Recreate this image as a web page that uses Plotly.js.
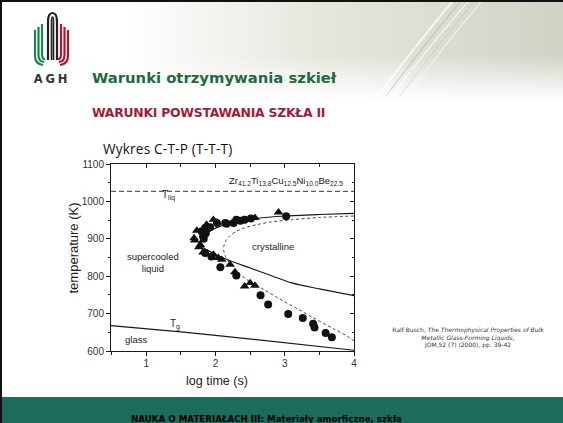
<!DOCTYPE html>
<html>
<head>
<meta charset="utf-8">
<script src="https://cdn.plot.ly/plotly-3.0.1.min.js"></script>
<style>
  html,body{margin:0;padding:0;background:#fff;overflow:hidden;}
  #slide{position:relative;width:563px;height:423px;overflow:hidden;background:#fff;font-family:'DejaVu Sans',Verdana,sans-serif;}
  .abs{position:absolute;white-space:nowrap;line-height:1;}
  #plot{position:absolute;left:0;top:0;width:563px;height:423px;z-index:5;}
  #footer{position:absolute;left:0;top:397px;width:563px;height:26px;background:#1c6c5b;z-index:10;overflow:hidden;}
</style>
</head>
<body>
<div id="slide">
  <!-- header background -->
  <div class="abs" style="left:0;top:0;width:563px;height:100px;background:linear-gradient(to right,#ffffff 0%,#ffffff 22%,#e6e8df 55%,#cfd3c6 100%);"></div>
  <div class="abs" style="left:0;top:0;width:563px;height:100px;background:linear-gradient(to bottom,rgba(255,255,255,0) 55%,rgba(255,255,255,1) 100%);"></div>
  <svg class="abs" style="left:0;top:0" width="563" height="100">
    <g fill="none" stroke-linecap="round">
      <path d="M378,96 Q420,40 452,2" stroke="rgba(255,255,255,0.7)" stroke-width="2"/>
      <path d="M386,96 Q428,40 460,2" stroke="rgba(160,165,150,0.35)" stroke-width="1.2"/>
      <path d="M392,96 Q434,40 468,2" stroke="rgba(255,255,255,0.6)" stroke-width="1.5"/>
      <path d="M400,96 Q440,42 474,2" stroke="rgba(170,175,160,0.3)" stroke-width="1"/>
      <path d="M407,96 Q447,42 481,2" stroke="rgba(255,255,255,0.5)" stroke-width="1.2"/>
    </g>
    <!-- AGH logo -->
    <g fill="none" stroke-width="2.2" stroke-linecap="butt">
      <path d="M35,30 L35,56 Q35,64 43,65" stroke="#17884a"/>
      <path d="M38.5,27 L38.5,55 Q38.5,61.5 44,62" stroke="#17884a"/>
      <path d="M42,24 L42,54 Q42,59 45,59.5" stroke="#17884a"/>
      <path d="M48,60 L48,22 Q48,13 52.5,13 Q57,13 57,22 L57,60" stroke="#222"/>
      <path d="M51.5,60 L51.5,22 Q51.5,17 52.5,17 Q53.5,17 53.5,22 L53.5,60" stroke="#222" stroke-width="1.6"/>
      <path d="M61,24 L61,54 Q61,59 58,59.5" stroke="#b3142f"/>
      <path d="M64.5,27 L64.5,55 Q64.5,61.5 59,62" stroke="#b3142f"/>
      <path d="M68,30 L68,56 Q68,64 60,65" stroke="#b3142f"/>
    </g>
  </svg>
  <div class="abs" style="left:0;top:0;width:563px;height:2px;background:#111;z-index:11;"></div>
  <div class="abs" style="left:0;top:0;width:2px;height:423px;background:#111;z-index:11;"></div>

  <div class="abs" style="left:31px;top:74px;width:42px;text-align:center;font-size:11.5px;font-weight:bold;letter-spacing:2.8px;color:#333;">AGH</div>
  <div class="abs" style="left:92px;top:70.5px;font-size:14.8px;font-weight:bold;color:#1d6b3e;">Warunki otrzymywania szkieł</div>
  <div class="abs" style="left:92px;top:106.8px;font-size:12.4px;font-weight:bold;letter-spacing:-0.25px;color:#a31b37;">WARUNKI POWSTAWANIA SZKŁA II</div>
  <div class="abs" style="left:103px;top:141.5px;font-family:'Open Sans',sans-serif;font-size:13.6px;letter-spacing:0.2px;color:#111;">Wykres C-T-P (T-T-T)</div>

  <div class="abs" style="left:378px;top:326px;width:180px;text-align:center;font-size:6px;line-height:7.5px;color:#333;">
    Ralf Busch, <i>The Thermophysical Properties of Bulk</i><br>
    <i>Metallic Glass-Forming Liquids</i>,<br>
    JOM,52 (7) (2000), pp. 39-42
  </div>

  <div id="footer">
    <div class="abs" style="left:0;top:18px;width:533px;text-align:center;font-size:8.7px;font-weight:bold;color:#000;">NAUKA O MATERIAŁACH III: Materiały amorficzne, szkła</div>
  </div>

  <div id="plot"></div>
</div>
<script>
// ---- data ----
const circlesX = [1.80, 1.82, 1.83, 1.85, 1.86, 1.92, 2.02, 2.14, 2.16, 2.26, 2.30, 2.36, 2.42, 2.51, 3.02,
                  1.85, 1.94, 2.07, 2.30, 2.65, 2.76, 3.05, 3.26, 3.41, 3.43, 3.59, 3.68];
const circlesY = [920, 907, 900, 929, 915, 931, 942, 942, 940, 942, 951, 948, 951, 954, 960,
                  862, 853, 824, 802, 749, 724, 699, 688, 673, 663, 648, 637];

const trianglesX = [1.69, 1.70, 1.73, 1.76, 1.78, 1.82, 1.87, 1.97, 2.02, 2.41, 2.57, 2.91,
                    1.97, 2.04, 2.09, 2.21, 2.28, 2.42, 2.50, 2.57];
const trianglesY = [902, 896, 922, 878, 884, 864, 938, 951, 944, 951, 956, 971,
                    858, 849, 844, 831, 811, 773, 782, 775];

const solidCurveX = [4.0, 3.5, 3.0, 2.6, 2.3, 2.1, 1.95, 1.85, 1.78, 1.76, 1.80, 1.90, 2.0, 2.2, 2.5, 2.8, 3.1, 3.5, 4.0];
const solidCurveY = [968, 965, 961, 955, 946, 936, 924, 910, 895, 887, 879, 868, 858, 842, 822, 802, 782, 766, 748];

const dashedCurveX = [4.0, 3.5, 3.1, 2.8, 2.6, 2.4, 2.3, 2.2, 2.15, 2.12, 2.12, 2.15, 2.2, 2.3, 2.45, 2.7, 2.9, 3.2, 3.4, 3.7, 3.9, 4.0];
const dashedCurveY = [961, 957, 951, 945, 938, 928, 920, 907, 895, 880, 866, 850, 836, 815, 791, 764, 742, 711, 690, 660, 640, 627];

const tliqX = [0.49, 4.0];
const tliqY = [1027, 1027];

const tgX = [0.49, 1.0, 1.5, 2.0, 2.5, 3.0, 3.5, 4.0];
const tgY = [668, 660, 651, 642, 632, 622, 612, 602];

const xTicks = [1, 2, 3, 4];
const yTicks = [600, 700, 800, 900, 1000, 1100];
const xRange = [0.49, 4.0];
const yRange = [600, 1100];

const ink = '#1a1a1a';
const txt = '#222222';
const chartFont = 'Liberation Sans, Arial, sans-serif';

const traces = [
  {x: tgX, y: tgY, mode: 'lines', line: {color: ink, width: 1.2}, hoverinfo: 'skip'},
  {x: solidCurveX, y: solidCurveY, mode: 'lines', line: {color: ink, width: 1.2, shape: 'spline', smoothing: 0.8}, hoverinfo: 'skip'},
  {x: dashedCurveX, y: dashedCurveY, mode: 'lines', line: {color: '#333', width: 0.9, dash: '3px,2.5px', shape: 'spline', smoothing: 0.8}, hoverinfo: 'skip'},
  {x: circlesX, y: circlesY, mode: 'markers', marker: {symbol: 'circle', size: 8, color: '#111'}},
  {x: trianglesX, y: trianglesY, mode: 'markers', marker: {symbol: 'triangle-up', size: 8.5, color: '#111'}},
  {x: tliqX, y: tliqY, xaxis: 'x2', yaxis: 'y2', mode: 'lines', line: {color: '#333', width: 1, dash: '5px,3px'}, hoverinfo: 'skip'}
];

const axisCommon = {
  showline: true, linecolor: ink, linewidth: 1, showgrid: false, zeroline: false,
  tickcolor: ink, tickwidth: 1, ticklen: 4,
  tickfont: {family: chartFont, size: 10, color: '#333'}
};

const layout = {
  width: 563, height: 423,
  margin: {l: 111, r: 209, t: 164, b: 72, pad: 0},
  paper_bgcolor: 'rgba(0,0,0,0)', plot_bgcolor: 'rgba(0,0,0,0)',
  showlegend: false,
  xaxis: Object.assign({}, axisCommon, {range: xRange, tickvals: xTicks, ticks: 'outside', ticklabelstandoff: -1,
    minor: {dtick: 0.5, tick0: 0.5, ticks: 'outside', ticklen: 2.5, tickcolor: ink}}),
  yaxis: Object.assign({}, axisCommon, {range: yRange, tickvals: yTicks, ticks: 'outside',
    minor: {dtick: 50, tick0: 0, ticks: 'outside', ticklen: 2.5, tickcolor: ink}}),
  xaxis2: Object.assign({}, axisCommon, {range: xRange, tickvals: xTicks, ticks: 'inside', overlaying: 'x', side: 'top',
    anchor: 'y2', showticklabels: false, minor: {dtick: 0.5, tick0: 0.5, ticks: 'inside', ticklen: 2.5, tickcolor: ink}}),
  yaxis2: Object.assign({}, axisCommon, {range: yRange, tickvals: yTicks, ticks: 'inside', overlaying: 'y', side: 'right',
    anchor: 'x2', showticklabels: false, minor: {dtick: 50, tick0: 0, ticks: 'inside', ticklen: 2.5, tickcolor: ink}}),
  annotations: [
    {x: 3.02, y: 1055, text: 'Zr<sub>41.2</sub>Ti<sub>13.8</sub>Cu<sub>12.5</sub>Ni<sub>10.0</sub>Be<sub>22.5</sub>', size: 9.5},
    {x: 1.32, y: 1017, text: 'T<sub>liq</sub>', size: 10},
    {x: 2.83, y: 880, text: 'crystalline', size: 9.5},
    {x: 1.09, y: 837, text: 'supercooled<br>liquid', size: 9.5},
    {x: 1.42, y: 672, text: 'T<sub>g</sub>', size: 10},
    {x: 0.85, y: 630, text: 'glass', size: 9.5}
  ].map(a => ({x: a.x, y: a.y, xref: 'x', yref: 'y', showarrow: false, text: a.text,
               xanchor: 'center', yanchor: 'middle', font: {family: chartFont, size: a.size, color: txt}}))
};

// axis titles placed at their page positions (pixels -> plot fractions)
const plotW = 563 - 111 - 209, plotH = 423 - 164 - 72;
function pagePos(px, py) { return {x: (px - 111) / plotW, y: 1 - (py - 164) / plotH}; }
const xt = pagePos(216.7, 381), yt = pagePos(73, 248.5);
layout.annotations.push({x: xt.x, y: xt.y, xref: 'paper', yref: 'paper', xanchor: 'center', yanchor: 'middle',
  showarrow: false, text: 'log time (s)', font: {family: chartFont, size: 12.5, color: txt}});
layout.annotations.push({x: yt.x, y: yt.y, xref: 'paper', yref: 'paper', xanchor: 'center', yanchor: 'middle',
  showarrow: false, textangle: -90, text: 'temperature (K)', font: {family: chartFont, size: 13, color: txt}});

Plotly.newPlot('plot', traces, layout, {displayModeBar: false, staticPlot: true});
</script>
</body>
</html>
